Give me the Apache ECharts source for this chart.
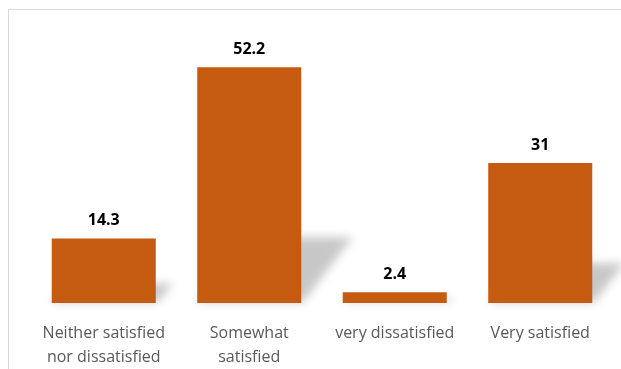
<!DOCTYPE html>
<html>
<head>
<meta charset="utf-8">
<script src="https://cdn.jsdelivr.net/npm/echarts@6/dist/echarts.min.js"></script>
<style>
  html, body { margin: 0; padding: 0; background: #fff; }
  #frame { position: absolute; left: 8px; top: 9px; width: 700px; height: 400px; border: 1px solid #d9d9d9; box-sizing: border-box; }
  #chart { position: absolute; left: 0; top: 0; width: 621px; height: 369px; }
</style>
</head>
<body>
<div id="frame"></div>
<div id="chart"></div>
<script>
// Satisfaction levels and the share of respondents for each
const categories = ['Neither satisfied\nnor dissatisfied', 'Somewhat\nsatisfied', 'very dissatisfied', 'Very satisfied'];
const values = [14.3, 52.2, 2.4, 31];

const barColor = '#C55A11';

const chart = echarts.init(document.getElementById('chart'), null, { renderer: 'canvas' });

// Soft floor shadow cast to the right of each bar, skewed upward like a perspective shadow.
// The shape itself is drawn far off to the left; only its blurred shadow lands on the chart.
const OFF = 2000;
function renderShadow(params, api) {
  const idx = api.value(0);
  const val = api.value(1);
  const base = api.coord([idx, 0]);
  const top = api.coord([idx, val]);
  const band = api.size([1, 0])[0];
  const w = band * 0.715;
  const x0 = base[0] - w / 2 - OFF;
  const x1 = base[0] + w / 2 - OFF;
  const h = base[1] - top[1];
  const rise = h * 0.27 + 2;
  const shift = h * 0.2 + 4;
  return {
    type: 'polygon',
    shape: {
      points: [
        [x0, base[1] - 1],
        [x1 + 2, base[1] - 1],
        [x1 + shift, base[1] - rise],
        [x0 + shift, base[1] - rise]
      ]
    },
    style: {
      fill: '#000',
      shadowBlur: 10,
      shadowOffsetX: OFF,
      shadowColor: 'rgba(0,0,0,0.22)'
    }
  };
}

chart.setOption({
  animation: false,
  grid: { left: 31, right: 8, top: 32, bottom: 66 },
  xAxis: {
    type: 'category',
    data: categories,
    axisLine: { show: false },
    axisTick: { show: false },
    axisLabel: {
      interval: 0,
      margin: 18,
      color: '#595959',
      fontFamily: 'Open Sans',
      fontSize: 16,
      lineHeight: 24
    }
  },
  yAxis: {
    type: 'value',
    min: 0,
    max: 60,
    show: false,
    splitLine: { show: false }
  },
  series: [
    {
      type: 'custom',
      renderItem: renderShadow,
      data: values.map((v, i) => [i, v]),
      clip: false,
      z: 1,
      silent: true
    },
    {
      type: 'bar',
      data: values,
      barWidth: '71.5%',
      z: 2,
      itemStyle: { color: barColor },
      label: {
        show: true,
        position: 'top',
        distance: 10,
        color: '#000',
        fontFamily: 'Open Sans',
        fontWeight: 'bold',
        fontSize: 16
      }
    }
  ]
});
</script>
</body>
</html>
